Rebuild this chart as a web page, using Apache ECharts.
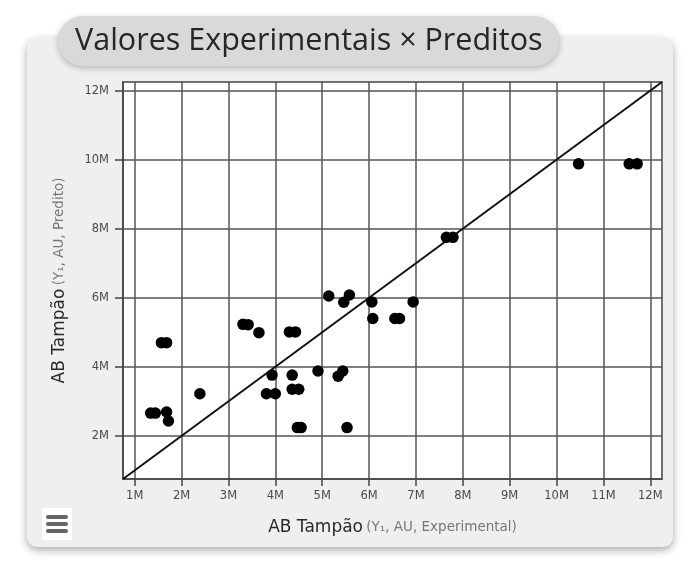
<!DOCTYPE html>
<html>
<head>
<meta charset="utf-8">
<script src="https://cdn.jsdelivr.net/npm/echarts@6/dist/echarts.min.js"></script>
<style>
html,body{margin:0;padding:0;background:#fff;}
#chart{width:697px;height:571px;}
</style>
</head>
<body>
<div id="chart"></div>
<script>
// Experimental (x) vs predicted (y), in millions (M)
const experimental = [1.34,1.44,1.68,1.72,1.57,1.68,2.39,3.31,3.42,3.65,3.81,4.00,3.93,4.30,4.43,4.36,4.36,4.50,4.47,4.55,4.91,5.34,5.44,5.53,5.14,5.46,5.58,6.06,6.08,6.55,6.65,6.94,7.65,7.79,10.47,11.55,11.72];
const predicted    = [2.66,2.66,2.69,2.43,4.70,4.70,3.22,5.23,5.22,4.99,3.22,3.22,3.76,5.01,5.01,3.76,3.35,3.35,2.24,2.24,3.88,3.73,3.88,2.24,6.05,5.87,6.08,5.88,5.40,5.40,5.40,5.88,7.75,7.75,9.88,9.88,9.88];
const axisMin = 0.75, axisMax = 12.25;
const diagonal = [axisMin, axisMax];           // y = x reference line
const xTicks = [1,2,3,4,5,6,7,8,9,10,11,12];
const yTicks = [2,4,6,8,10,12];

const points = experimental.map((v, i) => [v, predicted[i]]);
const lineData = diagonal.map(v => [v, v]);

const chart = echarts.init(document.getElementById('chart'));
const labelFont = '"DejaVu Sans",Arial,sans-serif';
const nameRich = {
  a: { fontFamily: '"DejaVu Sans",Arial,sans-serif', fontSize: 17, color: '#2a2a2a' },
  b: { fontFamily: '"DejaVu Sans",Arial,sans-serif', fontSize: 13.5, color: '#777' }
};
chart.setOption({
  backgroundColor: '#ffffff',
  animation: false,
  title: {
    text: 'Valores Experimentais × Preditos',
    left: 58, top: 16,
    padding: [8, 17, 8, 17],
    backgroundColor: '#d9d9d9',
    borderRadius: 26,
    shadowBlur: 6, shadowColor: 'rgba(0,0,0,0.25)', shadowOffsetY: 2,
    textStyle: { fontFamily: '"Open Sans","Noto Sans",sans-serif', fontSize: 30.5, fontWeight: 'normal', color: '#262626', lineHeight: 34 },
    z: 10
  },
  graphic: [
    {
      type: 'rect', z: -10, silent: true,
      shape: { x: 27, y: 38, width: 646, height: 509, r: 10 },
      style: { fill: '#efefef', shadowBlur: 8, shadowColor: 'rgba(0,0,0,0.35)', shadowOffsetY: 3 }
    },
    {
      type: 'group', left: 42, top: 508, z: 10, silent: true,
      children: [
        { type: 'rect', shape: { x: 0, y: 0, width: 30, height: 32 }, style: { fill: '#ffffff' } },
        { type: 'rect', shape: { x: 4, y: 7, width: 22, height: 4, r: 2 }, style: { fill: '#666' } },
        { type: 'rect', shape: { x: 4, y: 14, width: 22, height: 4, r: 2 }, style: { fill: '#666' } },
        { type: 'rect', shape: { x: 4, y: 21, width: 22, height: 4, r: 2 }, style: { fill: '#666' } }
      ]
    }
  ],
  grid: {
    left: 123, right: 35, top: 82, bottom: 92,
    show: true, backgroundColor: '#ffffff', borderColor: '#444', borderWidth: 1.5,
    containLabel: false, outerBoundsMode: 'none'
  },
  xAxis: {
    type: 'value', min: axisMin, max: axisMax,
    name: '{a|AB Tampão} {b|(Y₁, AU, Experimental)}',
    nameLocation: 'middle', nameGap: 40,
    nameTextStyle: { rich: nameRich },
    axisLine: { show: true, onZero: false, lineStyle: { color: '#444', width: 1.5 } },
    axisTick: { show: true, inside: false, length: 7, customValues: xTicks, lineStyle: { color: '#444', width: 1.5 } },
    axisLabel: { customValues: xTicks, margin: 11, fontFamily: labelFont, fontSize: 11.5, color: '#4a4a4a', formatter: v => v + 'M' },
    splitLine: { show: true, lineStyle: { color: '#555', width: 1.5 } }
  },
  yAxis: {
    type: 'value', min: axisMin, max: axisMax,
    name: '{a|AB Tampão} {b|(Y₁, AU, Predito)}',
    nameLocation: 'middle', nameGap: 55, nameRotate: 90,
    nameTextStyle: { rich: nameRich },
    axisLine: { show: true, onZero: false, lineStyle: { color: '#444', width: 1.5 } },
    axisTick: { show: true, inside: false, length: 8, customValues: yTicks, lineStyle: { color: '#444', width: 1.5 } },
    axisLabel: { customValues: yTicks, margin: 14, fontFamily: labelFont, fontSize: 11.5, color: '#4a4a4a', formatter: v => v + 'M' },
    splitLine: { show: true, lineStyle: { color: '#555', width: 1.5 } }
  },
  series: [
    {
      type: 'line', data: lineData, symbol: 'none',
      lineStyle: { color: '#111', width: 2 }, z: 3, silent: true
    },
    {
      type: 'scatter', data: points, symbol: 'circle', symbolSize: 11.5,
      itemStyle: { color: '#000', opacity: 1 }, z: 4
    }
  ]
});
</script>
</body>
</html>
